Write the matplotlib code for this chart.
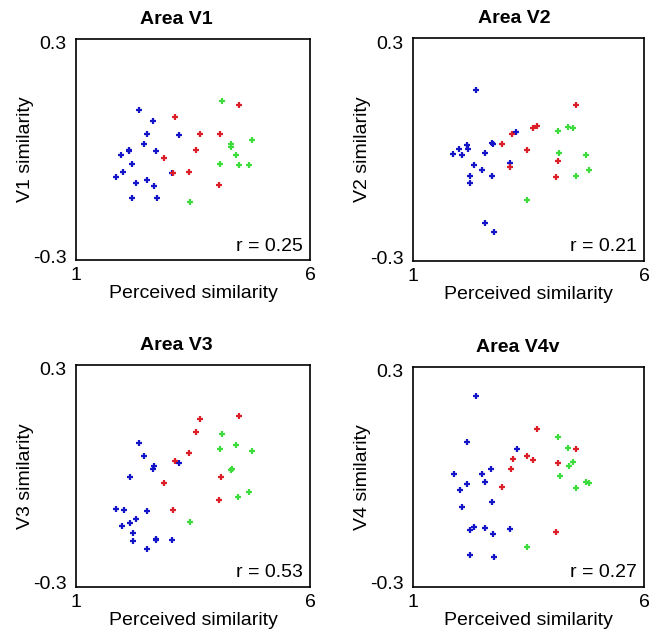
"""Neural vs. perceived similarity scatter for four visual areas."""

import matplotlib
matplotlib.use("Agg")
import matplotlib.pyplot as plt
import matplotlib.transforms as mtransforms

plt.rcParams["font.family"] = ["Liberation Sans", "DejaVu Sans"]

# ---------------------------------------------------------------------------
# Data: (perceived similarity, neural similarity) per pair group
# ---------------------------------------------------------------------------

areas = ["V1", "V2", "V3", "V4v"]
ylabels = ["V1 similarity", "V2 similarity", "V3 similarity", "V4 similarity"]
r_values = [0.25, 0.21, 0.53, 0.27]

# Area V1
v1_blue_x = [2.35, 2.65, 2.52, 3.21, 2.46, 2.14, 2.13, 2.70, 1.97, 2.20, 2.01, 1.85, 3.06, 2.28, 2.51, 2.67, 2.20, 2.73]
v1_blue_y = [0.108, 0.078, 0.042, 0.039, 0.016, -0.002, -0.005, -0.005, -0.016, -0.038, -0.062, -0.075, -0.063, -0.092, -0.082, -0.099, -0.132, -0.131]
v1_red_x = [3.11, 4.48, 3.64, 4.08, 3.56, 2.87, 3.41, 4.05, 3.07]
v1_red_y = [0.088, 0.121, 0.042, 0.041, 0.000, -0.023, -0.062, -0.095, -0.063]
v1_green_x = [4.12, 4.76, 4.32, 4.31, 4.41, 4.08, 4.48, 4.70, 3.43]
v1_green_y = [0.133, 0.025, 0.015, 0.007, -0.014, -0.039, -0.041, -0.041, -0.143]

# Area V2
v2_blue_x = [2.37, 3.24, 2.71, 2.74, 2.17, 2.18, 2.00, 1.86, 2.05, 2.55, 3.10, 2.32, 2.50, 2.24, 2.71, 2.24, 2.55, 2.76]
v2_blue_y = [0.160, 0.047, 0.017, 0.016, 0.012, 0.002, 0.002, -0.012, -0.014, -0.009, -0.037, -0.041, -0.056, -0.070, -0.072, -0.091, -0.198, -0.223]
v2_red_x = [4.53, 3.69, 3.60, 3.14, 2.92, 3.46, 3.11, 4.14, 4.10]
v2_red_y = [0.119, 0.064, 0.058, 0.041, 0.016, -0.001, -0.047, -0.031, -0.075]
v2_green_x = [4.14, 4.35, 4.46, 4.17, 4.75, 4.81, 4.52, 3.46]
v2_green_y = [0.049, 0.061, 0.059, -0.008, -0.015, -0.054, -0.070, -0.136]

# Area V3
v3_blue_x = [2.35, 2.46, 2.67, 2.65, 3.21, 2.15, 1.85, 2.02, 2.52, 2.28, 2.15, 1.98, 2.21, 2.21, 2.70, 2.72, 3.06, 2.52]
v3_blue_y = [0.089, 0.053, 0.028, 0.019, 0.034, -0.003, -0.089, -0.092, -0.095, -0.117, -0.126, -0.134, -0.154, -0.176, -0.170, -0.173, -0.174, -0.197]
v3_red_x = [4.48, 3.64, 3.56, 3.41, 3.11, 2.87, 4.05, 4.09, 3.07]
v3_red_y = [0.161, 0.153, 0.120, 0.062, 0.041, -0.018, -0.065, -0.003, -0.092]
v3_green_x = [4.13, 4.08, 4.41, 4.76, 4.33, 4.31, 4.70, 4.47, 3.43]
v3_green_y = [0.113, 0.073, 0.085, 0.067, 0.018, 0.016, -0.043, -0.056, -0.124]

# Area V4v
v4_blue_x = [2.37, 2.17, 3.25, 2.68, 2.50, 1.88, 2.56, 2.17, 2.01, 2.71, 2.05, 2.32, 2.24, 2.55, 3.10, 2.74, 2.24, 2.76]
v4_blue_y = [0.221, 0.095, 0.075, 0.021, 0.008, 0.008, -0.013, -0.018, -0.035, -0.067, -0.082, -0.136, -0.145, -0.138, -0.141, -0.155, -0.212, -0.219]
v4_red_x = [3.69, 4.53, 3.46, 3.60, 3.17, 3.12, 4.14, 2.92, 4.10]
v4_red_y = [0.132, 0.077, 0.056, 0.045, 0.049, 0.021, 0.038, -0.027, -0.151]
v4_green_x = [4.14, 4.35, 4.47, 4.37, 4.18, 4.75, 4.82, 4.53, 3.47]
v4_green_y = [0.110, 0.078, 0.042, 0.029, 0.002, -0.014, -0.016, -0.029, -0.190]

groups = [
    [(v1_blue_x, v1_blue_y), (v1_red_x, v1_red_y), (v1_green_x, v1_green_y)],
    [(v2_blue_x, v2_blue_y), (v2_red_x, v2_red_y), (v2_green_x, v2_green_y)],
    [(v3_blue_x, v3_blue_y), (v3_red_x, v3_red_y), (v3_green_x, v3_green_y)],
    [(v4_blue_x, v4_blue_y), (v4_red_x, v4_red_y), (v4_green_x, v4_green_y)],
]
colors = ["#1414c8", "#dc1e28", "#3cdc3c"]

# axes rectangles in figure fractions: left, bottom, width, height
positions = [
    [0.1164, 0.5866, 0.3583, 0.3514],
    [0.6325, 0.5850, 0.3537, 0.3545],
    [0.1164, 0.0668, 0.3583, 0.3530],
    [0.6325, 0.0668, 0.3537, 0.3498],
]
title_x = [0.43, 0.437, 0.43, 0.455]

fig = plt.figure(figsize=(6.53, 6.29), dpi=100)

for i, area in enumerate(areas):
    ax = fig.add_axes(positions[i])
    for (xs, ys), c in zip(groups[i], colors):
        ax.plot(xs, ys, linestyle="none", marker="+", markersize=5,
                markeredgewidth=1.6, color=c)

    ax.set_xlim(1, 6)
    ax.set_ylim(-0.3, 0.3)
    ax.set_xticks([1, 6])
    ax.set_xticklabels(["1", "6"])
    ax.set_yticks([-0.3, 0.3])
    ax.set_yticklabels(["-0.3", "0.3"])
    ax.tick_params(length=0, labelsize=14)
    ax.tick_params(axis="x", pad=5)
    ax.tick_params(axis="y", pad=7)
    for spine in ax.spines.values():
        spine.set_linewidth(1.2)

    # nudge the y end labels slightly inward
    for lbl, dy in zip(ax.get_yticklabels(), [0.04, -0.04]):
        lbl.set_transform(lbl.get_transform() +
                          mtransforms.ScaledTranslation(0, dy, fig.dpi_scale_trans))

    ax.set_xlabel("Perceived similarity", fontsize=14, labelpad=1)
    ax.set_ylabel(ylabels[i], fontsize=14, labelpad=-1)
    ax.set_title(f"Area {area}", fontsize=14, fontweight="bold",
                 x=title_x[i], pad=11)
    ax.text(0.97, 0.025, f"r = {r_values[i]:.2f}", fontsize=14,
            ha="right", va="bottom", transform=ax.transAxes)

fig.savefig("out.png", dpi=100)
